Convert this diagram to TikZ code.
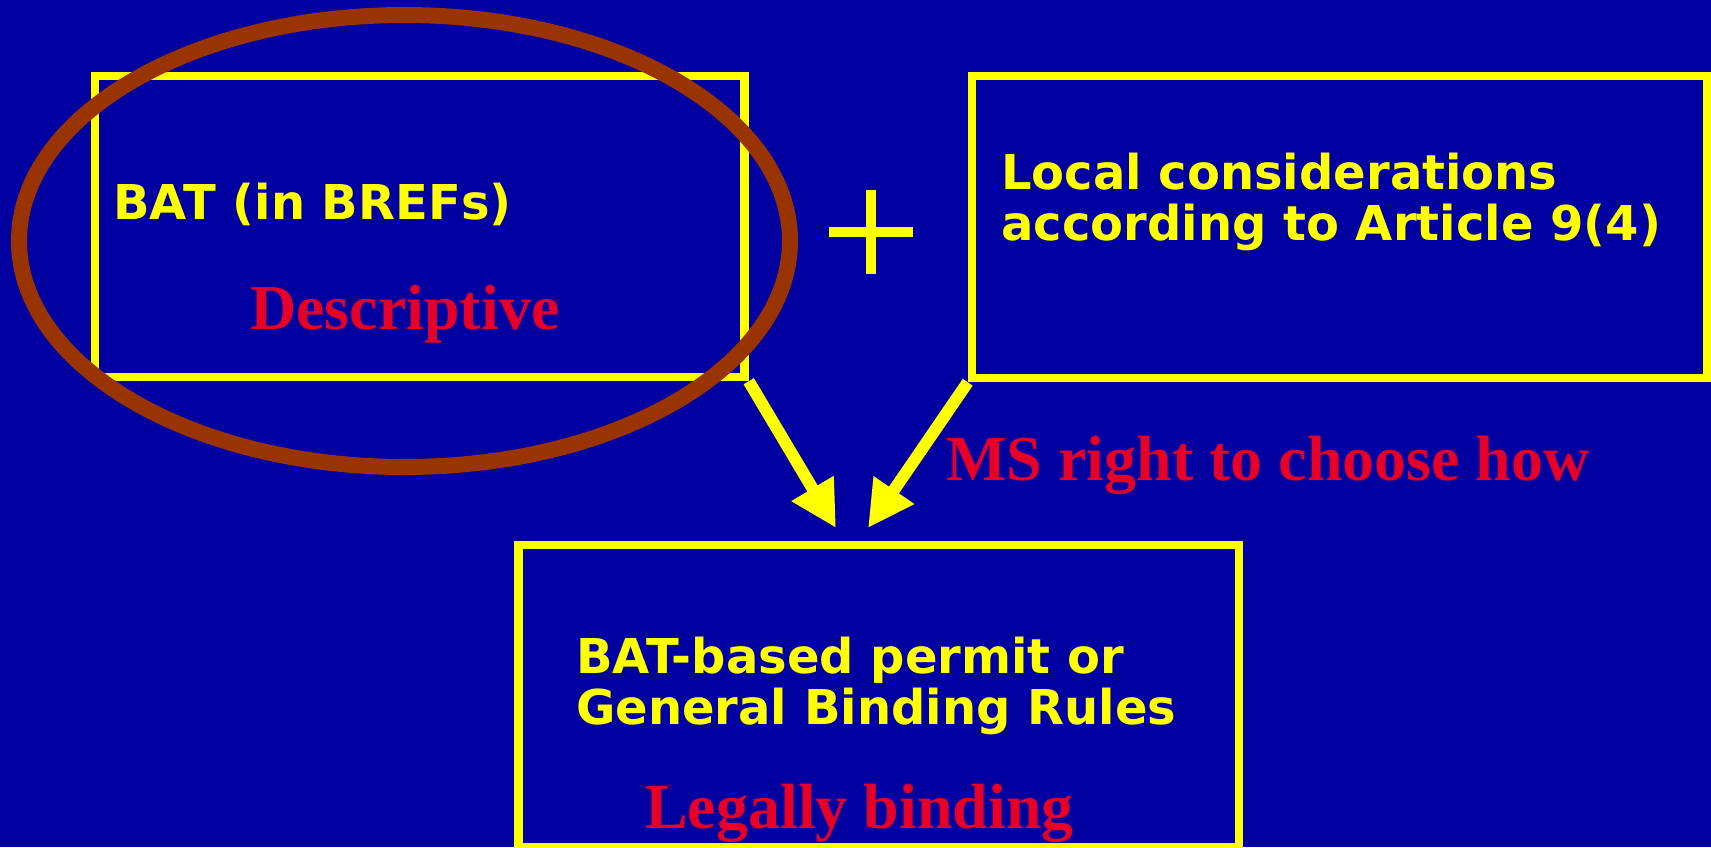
\documentclass[tikz,border=0pt]{standalone}
\usepackage{fontspec}
\setmainfont{Liberation Serif}
\newfontfamily\verd{DejaVu Sans}
\usetikzlibrary{arrows.meta,shapes.geometric}
\definecolor{bg}{RGB}{0,0,160}
\definecolor{yel}{RGB}{255,255,0}
\definecolor{redtxt}{RGB}{230,0,40}
\definecolor{brownring}{RGB}{153,51,0}
\tikzset{
  boxframe/.style={draw=yel,fill=bg,line width=8.5pt,inner sep=0pt,rectangle},
  boldsans/.style={text=yel,inner sep=0pt,anchor=base west,font=\verd\bfseries\fontsize{48}{51}\selectfont},
  redserif/.style={text=redtxt,inner sep=0pt,anchor=base west,font=\bfseries\fontsize{64}{70}\selectfont},
  fatarrow/.style={draw=yel,line width=12pt,-{Triangle[length=46pt,width=46pt]},yel},
  ring/.style={draw=brownring,line width=16pt,ellipse,inner sep=0pt}
}
\begin{document}
\begin{tikzpicture}[x=1pt,y=-1pt]
\fill[bg] (0,0) rectangle (1711,847);
\useasboundingbox (0,0) rectangle (1711,847);
% boxes
\node[boxframe,minimum width=649.5pt,minimum height=301pt] (box1) at (419.75,226.5) {};
\node[boxframe,minimum width=735pt,minimum height=302pt] (box2) at (1339.5,227) {};
\node[boxframe,minimum width=720.5pt,minimum height=302pt] (box3) at (878.75,696) {};
% texts
\node[boldsans] (t1) at (113,219) {BAT (in BREFs)};
\node[boldsans] (t2a) at (1001,189) {Local considerations};
\node[boldsans] (t2b) at (1001,240) {according to Article 9(4)};
\node[boldsans] (t3a) at (576,673) {BAT-based permit or};
\node[boldsans] (t3b) at (576,724) {General Binding Rules};
\node[redserif] (d1) at (250,329) {Descriptive};
\node[redserif] (d2) at (946,480) {MS right to choose how};
\node[redserif] (d3) at (645,828) {Legally binding};
% plus sign
\coordinate (pl) at (829,232); \coordinate (pr) at (913,232);
\coordinate (pt) at (871,190); \coordinate (pb) at (871,274);
\draw[yel,line width=10pt] (pl) -- (pr) (pt) -- (pb);
% arrows
\coordinate (tip1) at (836,528);
\coordinate (tip2) at (868,528);
\draw[fatarrow] (box1.south east) -- (tip1);
\draw[fatarrow] (box2.south west) -- (tip2);
% ring
\node[ring,minimum width=771pt,minimum height=452pt] (halo) at (404.5,241) {};
\end{tikzpicture}
\end{document}
